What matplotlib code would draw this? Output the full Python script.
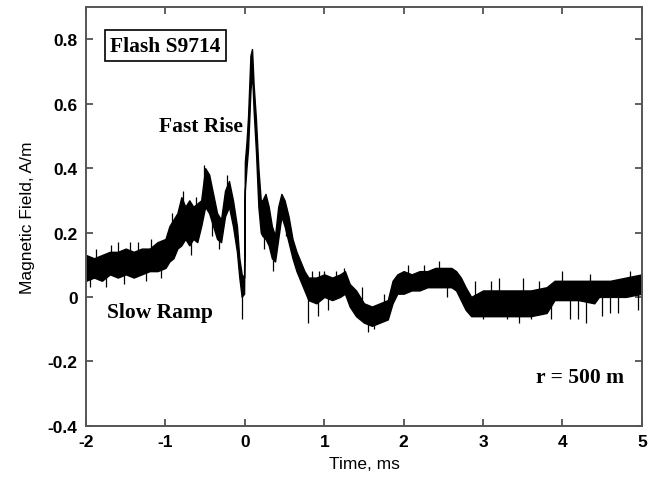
import numpy as np
import matplotlib
matplotlib.use("Agg")
import matplotlib.pyplot as plt

# envelope of the noisy trace (time in ms, field in A/m)
t = [-2.00, -1.90, -1.80, -1.70, -1.60, -1.50, -1.40, -1.30, -1.20, -1.10,
     -1.00, -0.95, -0.90, -0.85, -0.80, -0.75, -0.70, -0.65, -0.60, -0.55,
     -0.50, -0.45, -0.40, -0.35, -0.30, -0.25, -0.20, -0.15, -0.10, -0.07,
     -0.04, -0.01, 0.00, 0.02, 0.04, 0.07, 0.09, 0.11, 0.14, 0.17,
     0.20, 0.22, 0.26, 0.30, 0.34, 0.38, 0.42, 0.46, 0.50, 0.55,
     0.60, 0.65, 0.70, 0.75, 0.80, 0.90, 1.00, 1.10, 1.20, 1.26,
     1.32, 1.40, 1.50, 1.60, 1.70, 1.80, 1.86, 1.92, 2.00, 2.10,
     2.20, 2.30, 2.40, 2.50, 2.60, 2.66, 2.72, 2.78, 2.85, 3.00,
     3.20, 3.40, 3.60, 3.80, 3.90, 4.00, 4.20, 4.40, 4.46, 4.60,
     4.80, 5.00]
lower = [0.05, 0.06, 0.05, 0.07, 0.06, 0.07, 0.06, 0.07, 0.08, 0.08,
         0.09, 0.11, 0.12, 0.15, 0.16, 0.18, 0.16, 0.18, 0.17, 0.22,
         0.28, 0.26, 0.22, 0.18, 0.17, 0.25, 0.28, 0.22, 0.14, 0.06,
         0.00, 0.01, 0.33, 0.40, 0.46, 0.64, 0.70, 0.58, 0.45, 0.28,
         0.20, 0.19, 0.18, 0.16, 0.12, 0.11, 0.18, 0.25, 0.22, 0.17,
         0.12, 0.08, 0.05, 0.02, -0.01, -0.02, 0.00, -0.01, 0.00, 0.01,
         -0.03, -0.06, -0.08, -0.09, -0.08, -0.07, -0.02, 0.01, 0.01, 0.02,
         0.02, 0.03, 0.03, 0.03, 0.03, 0.02, -0.01, -0.04, -0.06, -0.06,
         -0.06, -0.06, -0.06, -0.05, -0.01, -0.01, -0.01, -0.02, 0.00, 0.00,
         0.00, 0.01]
upper = [0.13, 0.12, 0.13, 0.14, 0.14, 0.15, 0.14, 0.15, 0.15, 0.17,
         0.18, 0.22, 0.24, 0.26, 0.31, 0.28, 0.30, 0.28, 0.29, 0.30,
         0.40, 0.38, 0.32, 0.26, 0.24, 0.33, 0.36, 0.30, 0.22, 0.12,
         0.07, 0.06, 0.42, 0.48, 0.56, 0.75, 0.77, 0.66, 0.55, 0.40,
         0.30, 0.30, 0.32, 0.28, 0.22, 0.19, 0.28, 0.32, 0.30, 0.25,
         0.18, 0.14, 0.11, 0.08, 0.06, 0.06, 0.07, 0.06, 0.07, 0.08,
         0.04, 0.02, -0.02, -0.03, -0.02, -0.01, 0.05, 0.07, 0.08, 0.07,
         0.08, 0.08, 0.09, 0.09, 0.09, 0.08, 0.06, 0.03, 0.00, 0.02,
         0.02, 0.02, 0.02, 0.03, 0.05, 0.05, 0.05, 0.05, 0.05, 0.05,
         0.06, 0.07]

# isolated noise spikes poking out of the band (time, tip value)
spike_t = [-1.95, -1.88, -1.75, -1.68, -1.60, -1.52, -1.45, -1.35, -1.25, -1.18,
           -1.05, -0.92, -0.78, -0.68, -0.62, -0.52, -0.42, -0.33, -0.22, -0.04,
           0.24, 0.36, 0.52, 0.79, 0.85, 0.92, 0.93, 1.00, 1.05, 1.15,
           1.25, 1.48, 1.55, 1.62, 1.75, 2.05, 2.25, 2.45, 2.55, 2.90,
           3.00, 3.10, 3.20, 3.30, 3.45, 3.50, 3.60, 3.70, 3.85, 4.00,
           4.10, 4.20, 4.30, 4.35, 4.50, 4.60, 4.70, 4.85, 4.95]
spike_v = [0.03, 0.15, 0.03, 0.16, 0.17, 0.04, 0.17, 0.17, 0.05, 0.18,
           0.06, 0.26, 0.33, 0.13, 0.31, 0.41, 0.19, 0.15, 0.38, -0.07,
           0.15, 0.08, 0.19, -0.08, 0.08, -0.06, 0.08, 0.08, -0.04, 0.08,
           0.09, 0.03, -0.11, -0.10, 0.01, 0.10, 0.10, 0.11, 0.00, 0.05,
           -0.07, 0.05, 0.06, -0.07, -0.08, 0.06, -0.07, 0.05, -0.07, 0.08,
           -0.07, -0.07, -0.08, 0.07, -0.06, -0.05, -0.05, 0.08, -0.04]

plt.rcParams['axes.unicode_minus'] = False
plt.rcParams['font.family'] = 'Liberation Sans'

fig = plt.figure(figsize=(6.57, 4.81), dpi=100)
ax = fig.add_axes([0.131, 0.113, 0.846, 0.870])

ax.fill_between(t, lower, upper, color='black', linewidth=1.0, edgecolor='black')
mid = (np.interp(spike_t, t, lower) + np.interp(spike_t, t, upper)) / 2
ax.vlines(spike_t, mid, spike_v, color='black', linewidth=0.9)

ax.set_xlim(-2, 5)
ax.set_ylim(-0.4, 0.9)
ax.set_xticks(range(-2, 6))
ax.set_yticks([-0.4, -0.2, 0, 0.2, 0.4, 0.6, 0.8])
ax.set_yticklabels(['-0.4', '-0.2', '0', '0.2', '0.4', '0.6', '0.8'])
ax.tick_params(direction='in', length=5, width=1.2, color='#444444',
               top=True, right=True, labelsize=12.5, pad=6)
for lab in ax.get_xticklabels() + ax.get_yticklabels():
    lab.set_fontweight('bold')
for sp in ax.spines.values():
    sp.set_color('#555555')
    sp.set_linewidth(1.4)

ax.set_xlabel('Time, ms', fontsize=12.5, labelpad=5)
ax.set_ylabel('Magnetic Field, A/m', fontsize=12.5, labelpad=9)

serif = dict(family='Liberation Serif', fontweight='bold', fontsize=15.5)
ax.text(-1.0, 0.78, 'Flash S9714', ha='center', va='center',
        bbox=dict(boxstyle='square,pad=0.25', facecolor='white', edgecolor='black', linewidth=1.2),
        **serif)
ax.text(-0.55, 0.53, 'Fast Rise', ha='center', va='center', **serif)
ax.text(-1.07, -0.048, 'Slow Ramp', ha='center', va='center', **serif)
ax.text(4.22, -0.25, 'r = 500 m', ha='center', va='center', **serif)

fig.savefig('out.png', dpi=100)
